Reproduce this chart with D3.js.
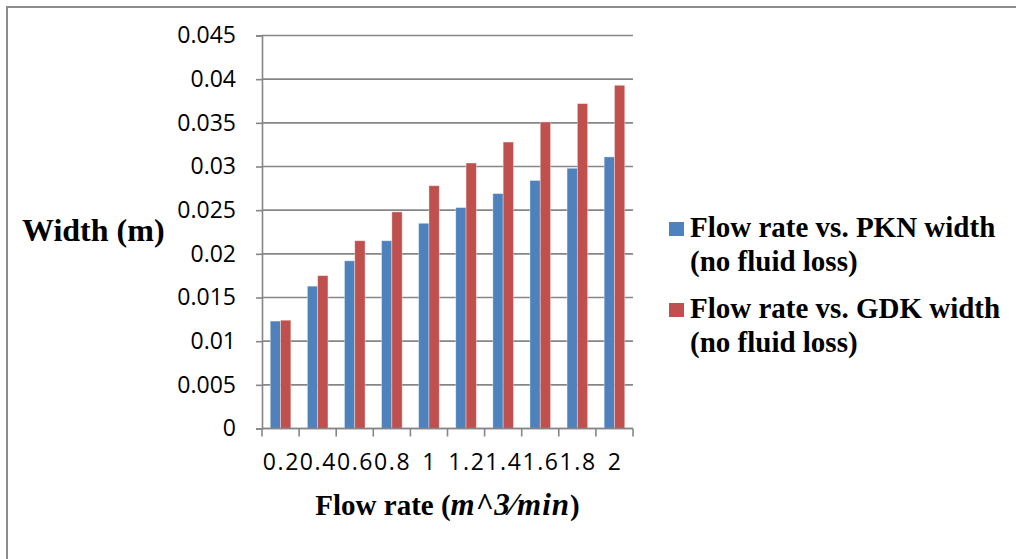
<!DOCTYPE html>
<html>
<head>
<meta charset="utf-8">
<script src="https://cdn.jsdelivr.net/npm/d3@7"></script>
<style>
  body { margin: 0; background: #fff; }
  svg { display: block; }
</style>
</head>
<body>
<div id="chart"></div>
<script>
// flow rate categories (m^3/min)
const categories = ["0.2", "0.4", "0.6", "0.8", "1", "1.2", "1.4", "1.6", "1.8", "2"];
// width (m) for each series
const pknWidth = [0.0123, 0.0163, 0.0192, 0.0215, 0.0235, 0.0253, 0.0269, 0.0284, 0.0298, 0.0311];
const gdkWidth = [0.0124, 0.0175, 0.0215, 0.0248, 0.0278, 0.0304, 0.0328, 0.0351, 0.0372, 0.0393];
const seriesNames = ["Flow rate vs. PKN width (no fluid loss)", "Flow rate vs. GDK width (no fluid loss)"];
const yTicks = [0, 0.005, 0.01, 0.015, 0.02, 0.025, 0.03, 0.035, 0.04, 0.045];

const width = 1016, height = 559;
const colors = ["#4f81bd", "#c0504d"];
const gridColor = "#868686";
const serif = "'Liberation Serif', 'Times New Roman', serif";

const svg = d3.select("#chart").append("svg")
    .attr("width", width)
    .attr("height", height);

// frame (only top and left edges are visible in the crop)
svg.append("path")
    .attr("d", `M7,${height} V7 H${width}`)
    .attr("fill", "none")
    .attr("stroke", "#8c8c8c")
    .attr("stroke-width", 2);

const plot = { left: 262, right: 633, top: 35.5, bottom: 428.5 };

const x = d3.scaleBand()
    .domain(categories)
    .range([plot.left, plot.right])
    .paddingInner(0.445)
    .paddingOuter(0.2225);

const xSeries = d3.scaleBand()
    .domain([0, 1])
    .range([0, x.bandwidth()]);

const y = d3.scaleLinear()
    .domain([0, 0.045])
    .range([plot.bottom, plot.top]);

// horizontal gridlines
svg.append("g")
    .selectAll("line")
    .data(yTicks)
    .join("line")
    .attr("x1", plot.left)
    .attr("x2", plot.right)
    .attr("y1", d => y(d))
    .attr("y2", d => y(d))
    .attr("stroke", gridColor)
    .attr("stroke-width", 1.6);

// bars
const rows = categories.map((c, i) => ({ cat: c, values: [pknWidth[i], gdkWidth[i]] }));

svg.append("g")
    .selectAll("g")
    .data(rows)
    .join("g")
    .attr("transform", d => `translate(${x(d.cat)},0)`)
    .selectAll("rect")
    .data(d => d.values.map((v, k) => ({ v, k })))
    .join("rect")
    .attr("x", d => xSeries(d.k))
    .attr("width", xSeries.bandwidth())
    .attr("y", d => y(d.v))
    .attr("height", d => y(0) - y(d.v))
    .attr("fill", d => colors[d.k])
    .attr("stroke", "rgba(255,255,255,0.45)")
    .attr("stroke-width", 0.8);

// y axis
const yAxis = svg.append("g")
    .attr("transform", `translate(${plot.left},0)`)
    .call(d3.axisLeft(y).tickValues(yTicks).tickFormat(d => String(d)).tickSize(6).tickPadding(20));
yAxis.select(".domain").attr("stroke", gridColor).attr("stroke-width", 1.6);
yAxis.selectAll(".tick line").attr("stroke", gridColor).attr("stroke-width", 1.6);
yAxis.selectAll("text")
    .attr("font-family", "'Open Sans', sans-serif")
    .attr("font-size", 23)
    .attr("fill", "#000");

// x axis: line, boundary ticks and labels
const xg = svg.append("g");
const step = x.step();
const bounds = d3.range(categories.length + 1).map(i => plot.left + i * step);
xg.append("line")
    .attr("x1", plot.left).attr("x2", plot.right)
    .attr("y1", y(0)).attr("y2", y(0))
    .attr("stroke", gridColor).attr("stroke-width", 1.6);
xg.selectAll(".xt")
    .data(bounds)
    .join("line")
    .attr("x1", d => d).attr("x2", d => d)
    .attr("y1", y(0)).attr("y2", y(0) + 8)
    .attr("stroke", gridColor).attr("stroke-width", 1.6);
xg.selectAll("text")
    .data(categories)
    .join("text")
    .attr("x", d => x(d) + x.bandwidth() / 2 + 0.8)
    .attr("y", 470)
    .attr("text-anchor", "middle")
    .attr("font-family", "'Open Sans', sans-serif")
    .attr("font-size", 23)
    .attr("letter-spacing", 1.6)
    .text(d => d);

// axis titles
svg.append("text")
    .attr("x", 22)
    .attr("y", 241)
    .attr("font-family", serif)
    .attr("font-weight", "bold")
    .attr("font-size", 32)
    .text("Width (m)");

const xt = svg.append("text")
    .attr("x", (plot.left + plot.right) / 2)
    .attr("y", 515)
    .attr("text-anchor", "middle")
    .attr("font-family", serif)
    .attr("font-weight", "bold")
    .attr("font-size", 29);
xt.append("tspan").text("Flow rate (");
xt.append("tspan")
    .attr("font-style", "italic")
    .attr("font-size", 31)
    .attr("letter-spacing", 1)
    .text("m^3\u2044min");
xt.append("tspan").text(")");

// legend
const legend = svg.append("g");
const legendTop = [222, 303];
seriesNames.forEach((name, k) => {
    legend.append("rect")
        .attr("x", 669)
        .attr("y", legendTop[k])
        .attr("width", 15)
        .attr("height", 14)
        .attr("fill", colors[k]);
    const parts = name.split(" (");
    const t = legend.append("text")
        .attr("font-family", serif)
        .attr("font-weight", "bold")
        .attr("font-size", 29);
    t.append("tspan").attr("x", 690).attr("y", legendTop[k] + 15).text(parts[0]);
    t.append("tspan").attr("x", 690).attr("y", legendTop[k] + 49).text("(" + parts[1]);
});
</script>
</body>
</html>
